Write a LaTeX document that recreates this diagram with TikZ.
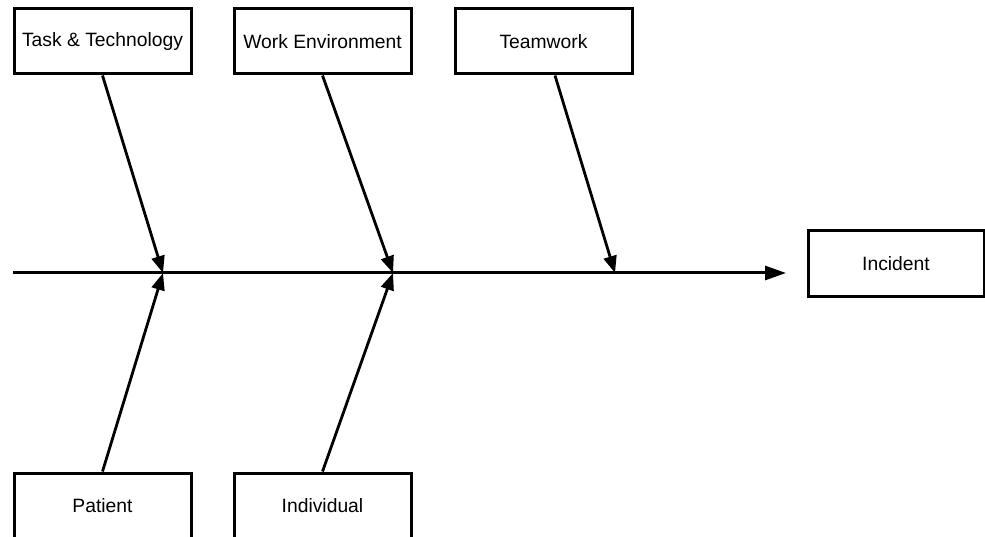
\documentclass[tikz,border=0pt]{standalone}
\usepackage{fontspec}
\setmainfont{Liberation Sans}
\usetikzlibrary{arrows.meta}
\tikzset{
  causebox/.style={draw=black, line width=3pt, fill=white, minimum width=177pt, minimum height=65pt, inner sep=0pt, font=\fontsize{19.3}{23}\selectfont},
  branch/.style={line width=2.8pt, -{Triangle[length=17pt,width=13pt]}},
  spine/.style={line width=3pt, -{Triangle[length=21pt,width=14pt]}}
}
\begin{document}
\begin{tikzpicture}[x=1pt,y=-1pt]
\useasboundingbox[fill=white] (0,0) rectangle (985,537);
\begin{scope}
\clip (0,0) rectangle (985,537);
% cause boxes
\node[causebox] (task) at (102.5,41.5) {Task \& Technology};
\node[causebox] (work) at (322.5,41.5) {Work Environment};
\node[causebox] (team) at (543.5,41.5) {Teamwork};
\node[causebox] (patient) at (102.5,505.5) {Patient};
\node[causebox] (indiv) at (322.5,505.5) {Individual};
\node[causebox, minimum width=176pt, minimum height=66pt] (incident) at (896,264) {Incident};
% spine
\coordinate (s0) at (13,273);
\coordinate (s1) at (786,273);
\coordinate (j1) at (163,273);
\coordinate (j2) at (393,273);
\coordinate (j3) at (615,273);
\draw[spine] (s0) -- (s1);
% branches
\draw[branch] (task.south) -- (j1);
\draw[branch] (patient.north) -- (j1);
\draw[branch] (work.south) -- (j2);
\draw[branch] (indiv.north) -- (j2);
\draw[branch] ([xshift=11.5pt]team.south) -- (j3);
\end{scope}
\end{tikzpicture}
\end{document}
